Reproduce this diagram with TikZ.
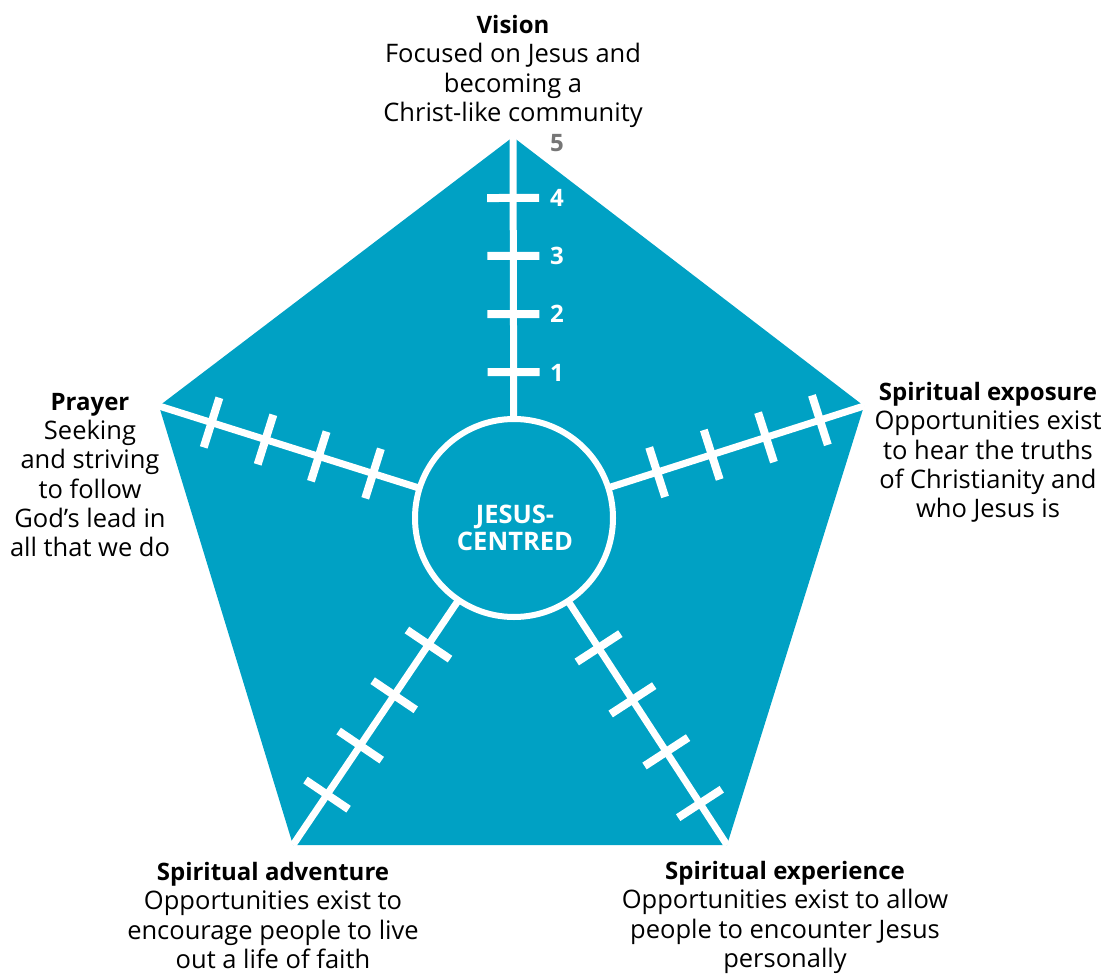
\documentclass[tikz,border=0pt]{standalone}
\usepackage{fontspec}
\setmainfont{Open Sans}
\usetikzlibrary{calc}
\definecolor{tealbg}{RGB}{0,161,196}
\definecolor{numgray}{RGB}{118,118,118}
\newcommand{\hd}[1]{{\fontsize{24}{29.3}\selectfont\bfseries #1}}
\begin{document}
\begin{tikzpicture}[x=1pt,y=-1pt,
  spoke/.style={draw=white, line width=7pt},
  tickmark/.style={draw=white, line width=8pt},
  lbl/.style={align=center, inner sep=0pt, anchor=north, font=\fontsize{25.5}{29.3}\selectfont},
  num/.style={font=\fontsize{24}{24}\selectfont\bfseries, text=white, inner sep=0pt},
  ring/.style={circle, draw=white, line width=6pt, fill=tealbg, minimum size=198pt, inner sep=0pt}]
\useasboundingbox (0,0) rectangle (1106,974);
\coordinate (T) at (513,137);
\coordinate (R) at (864,406);
\coordinate (BR) at (727,845);
\coordinate (BL) at (293,845);
\coordinate (L) at (159,406);
\coordinate (C) at (514,518);
\fill[tealbg] (T) -- (R) -- (BR) -- (BL) -- (L) -- cycle;
% spokes and ticks
\foreach \V/\fl in {T/{.383,.535,.688,.840}, R/{.409,.565,.72,.874}, L/{.397,.55,.70,.852}, BL/{.387,.542,.696,.846}, BR/{.397,.556,.715,.873}}{
  \draw[spoke] (C) -- (\V);
  \foreach \f in \fl {
    \coordinate (p) at ($(C)!\f!(\V)$);
    \draw[tickmark] ($(p)!26pt!90:(\V)$) -- ($(p)!26pt!-90:(\V)$);
  }
}
\node[ring] (ctr) at (C) {};
\node[font=\fontsize{25.5}{27}\selectfont\bfseries, text=white, align=center, inner sep=0pt] (ctext) at (515,528) {JESUS-\\CENTRED};
% scale numbers
\node[num, text=numgray] (n5) at (557,143) {5};
\node[num] (n4) at (557,198) {4};
\node[num] (n3) at (557,256) {3};
\node[num] (n2) at (557,314) {2};
\node[num] (n1) at (557,373) {1};
% labels
\node[lbl] (vision) at (513,15) {\hd{Vision}\\Focused on Jesus and\\becoming a\\Christ-like community};
\node[lbl] (expo) at (988,382) {\hd{Spiritual exposure}\\Opportunities exist\\to hear the truths\\of Christianity and\\who Jesus is};
\node[lbl] (prayer) at (90,393) {\hd{Prayer}\\Seeking\\and striving\\to follow\\God's lead in\\all that we do};
\node[lbl] (adv) at (273,862) {\hd{Spiritual adventure}\\Opportunities exist to\\encourage people to live\\out a life of faith};
\node[lbl] (exper) at (785,861) {\hd{Spiritual experience}\\Opportunities exist to allow\\people to encounter Jesus\\personally};
\end{tikzpicture}
\end{document}
